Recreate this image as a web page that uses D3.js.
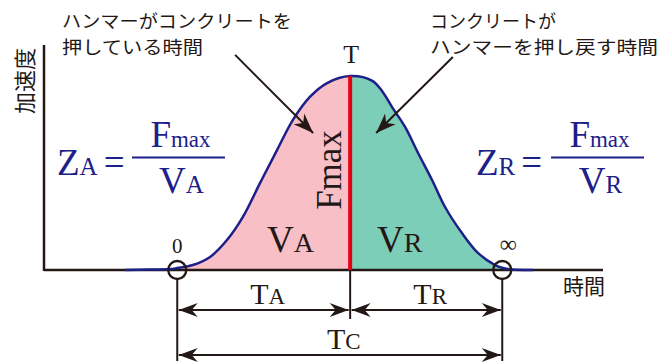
<!DOCTYPE html>
<meta charset="utf-8">
<style>
body { margin: 0; background: #fff; }
svg { display: block; }
.serif { font-family: "Liberation Serif", "Times New Roman", serif; }
.jp { font-family: "Noto Sans CJK JP", sans-serif; fill: #231815; }
</style>
<body>
<svg id="chart"></svg>
<script src="https://cdn.jsdelivr.net/npm/d3@7"></script>
<script>

// acceleration curve (time, acceleration)
var curveTime  = [-16.1, -8.4, -2.2, 0, 4.8, 10.1, 15.3, 20.2, 25.5, 30.7, 35.6, 40.8, 46.1, 53.2,
                  59.9, 63.0, 66.1, 70.1, 74.1, 78.4, 82.4, 87.6, 92.5, 97.8, 100.2, 103, 109.5];
var curveAccel = [0, 0.2, 0.4, 0.9, 2.2, 5.8, 13.3, 23.6, 38.7, 53.3, 66.7, 76.9, 83.1, 86.2,
                  84.2, 79.6, 72.4, 63.6, 52, 40, 28, 16.4, 7.6, 2.2, 0.9, 0.2, 0];

var tStart = 0, tPeak = 53.2, tEnd = 100, peakAccel = 86.2;

// dimension arrows: [from, to, label, subscript, row]
var spans = [
  [tStart, tPeak, "T", "A", 0],
  [tPeak, tEnd, "T", "R", 0],
  [tStart, tEnd, "T", "C", 1]
];

// annotation arrows: [tailTime, tailAccel, headTime, headAccel]
var pointers = [
  [17.8, 95.6, 41.8, 60.9],
  [84.8, 94.7, 61.2, 60.9]
];

var width = 666, height = 363;
var navy = "#1d2088", ink = "#231815";

var svg = d3.select("svg#chart")
    .attr("width", width)
    .attr("height", height);

var x = d3.scaleLinear().domain([-41, 131]).range([44, 603]);
var y = d3.scaleLinear().domain([0, 100]).range([270, 45]);

var pts = curveTime.map((t, i) => [t, curveAccel[i]]);

var defs = svg.append("defs");
defs.append("marker")
    .attr("id", "head")
    .attr("viewBox", "-21 -8 22 16")
    .attr("markerUnits", "userSpaceOnUse")
    .attr("markerWidth", 22).attr("markerHeight", 16)
    .attr("refX", 0).attr("refY", 0)
    .attr("orient", "auto-start-reverse")
  .append("path")
    .attr("d", "M0,0 L-20,-7.5 L-14,0 L-20,7.5 Z")
    .attr("fill", ink);
defs.append("marker")
    .attr("id", "dim")
    .attr("viewBox", "-20 -8 21 16")
    .attr("markerUnits", "userSpaceOnUse")
    .attr("markerWidth", 21).attr("markerHeight", 16)
    .attr("refX", 0).attr("refY", 0)
    .attr("orient", "auto-start-reverse")
  .append("path")
    .attr("d", "M0,0 L-19,-7 L-13,0 L-19,7 Z")
    .attr("fill", ink);

defs.append("clipPath").attr("id", "clipA")
  .append("rect")
    .attr("x", x(tStart)).attr("y", 0)
    .attr("width", x(tPeak) - x(tStart)).attr("height", height);
defs.append("clipPath").attr("id", "clipR")
  .append("rect")
    .attr("x", x(tPeak)).attr("y", 0)
    .attr("width", x(tEnd) - x(tPeak)).attr("height", height);

var area = d3.area()
    .x(d => x(d[0]))
    .y0(y(0))
    .y1(d => y(d[1]))
    .curve(d3.curveCatmullRom);
var line = d3.line()
    .x(d => x(d[0]))
    .y(d => y(d[1]))
    .curve(d3.curveCatmullRom);

// filled halves
svg.append("path").datum(pts)
    .attr("d", area).attr("fill", "#f8bfc6").attr("clip-path", "url(#clipA)");
svg.append("path").datum(pts)
    .attr("d", area).attr("fill", "#7dceb8").attr("clip-path", "url(#clipR)");

// axes
svg.append("line")
    .attr("x1", x.range()[0]).attr("x2", x.range()[0])
    .attr("y1", y.range()[1]).attr("y2", y(0) + 1)
    .attr("stroke", ink).attr("stroke-width", 2.5);
svg.append("line")
    .attr("x1", x.range()[0]).attr("x2", x.range()[1])
    .attr("y1", y(0)).attr("y2", y(0))
    .attr("stroke", ink).attr("stroke-width", 2.5);

// the curve
svg.append("path").datum(pts)
    .attr("d", line)
    .attr("fill", "none")
    .attr("stroke", navy)
    .attr("stroke-width", 2.5);

// Fmax line
svg.append("line")
    .attr("x1", x(tPeak)).attr("x2", x(tPeak))
    .attr("y1", y(0)).attr("y2", y(peakAccel))
    .attr("stroke", "#e60012").attr("stroke-width", 4);

// vertical guide lines
svg.append("line")
    .attr("x1", x(tStart)).attr("x2", x(tStart))
    .attr("y1", y(0) + 9).attr("y2", 361)
    .attr("stroke", ink).attr("stroke-width", 2);
svg.append("line")
    .attr("x1", x(tEnd)).attr("x2", x(tEnd))
    .attr("y1", y(0) + 9).attr("y2", 361)
    .attr("stroke", ink).attr("stroke-width", 2);
svg.append("line")
    .attr("x1", x(tPeak)).attr("x2", x(tPeak))
    .attr("y1", y(0)).attr("y2", 319)
    .attr("stroke", ink).attr("stroke-width", 2);

// circles at 0 and infinity
svg.selectAll(".ring")
    .data([tStart, tEnd])
  .enter().append("circle")
    .attr("class", "ring")
    .attr("cx", d => x(d)).attr("cy", y(0))
    .attr("r", 9)
    .attr("fill", "none")
    .attr("stroke", ink).attr("stroke-width", 2.3);

// dimension arrows
var rowY = [310, 355];
spans.forEach(s => {
  var yy = rowY[s[4]];
  svg.append("line")
    .attr("x1", x(s[0]) + 1.5).attr("x2", x(s[1]) - 1.5)
    .attr("y1", yy).attr("y2", yy)
    .attr("stroke", ink).attr("stroke-width", 2)
    .attr("marker-start", "url(#dim)")
    .attr("marker-end", "url(#dim)");
  var t = svg.append("text")
    .attr("class", "serif")
    .attr("x", (x(s[0]) + x(s[1])) / 2 + 4)
    .attr("y", yy - 6)
    .attr("text-anchor", "middle")
    .attr("fill", ink);
  t.append("tspan").attr("font-size", 30).text(s[2]);
  t.append("tspan").attr("font-size", 23).text(s[3]);
});

// pointer arrows
svg.selectAll(".pointer")
    .data(pointers)
  .enter().append("line")
    .attr("class", "pointer")
    .attr("x1", d => x(d[0])).attr("y1", d => y(d[1]))
    .attr("x2", d => x(d[2])).attr("y2", d => y(d[3]))
    .attr("stroke", ink).attr("stroke-width", 2)
    .attr("marker-end", "url(#head)");

// Japanese captions, two lines each
function jp(xx, lines) {
  lines.forEach((l, i) => {
    svg.append("text").attr("class", "jp")
      .attr("x", xx).attr("y", 27.5 + i * 26.3)
      .attr("font-size", 18)
      .attr("textLength", l[1]).attr("lengthAdjust", "spacingAndGlyphs")
      .text(l[0]);
  });
}
jp(62, [["ハンマーがコンクリートを", 230], ["押している時間", 141]]);
jp(430, [["コンクリートが", 126], ["ハンマーを押し戻す時間", 228]]);

svg.append("text").attr("class", "jp")
    .attr("transform", "translate(33,81) rotate(-90)")
    .attr("text-anchor", "middle")
    .attr("font-size", 22)
    .text("加速度");
svg.append("text").attr("class", "jp")
    .attr("x", 563).attr("y", 294)
    .attr("font-size", 21)
    .text("時間");

// point labels
svg.append("text").attr("class", "serif")
    .attr("x", x(tPeak) + 1).attr("y", 63)
    .attr("text-anchor", "middle").attr("font-size", 26).attr("fill", ink)
    .text("T");
svg.append("text").attr("class", "serif")
    .attr("x", x(tStart)).attr("y", 253)
    .attr("text-anchor", "middle").attr("font-size", 21).attr("fill", ink)
    .text("0");
svg.append("text").attr("class", "serif")
    .attr("x", x(tEnd) + 6).attr("y", 252)
    .attr("text-anchor", "middle").attr("font-size", 24).attr("fill", ink)
    .text("∞");

// Fmax, VA, VR inside the area
svg.append("text").attr("class", "serif")
    .attr("transform", "translate(341,170) rotate(-90)")
    .attr("text-anchor", "middle").attr("font-size", 35).attr("fill", ink)
    .text("Fmax");

function vlabel(xx, sub) {
  var t = svg.append("text").attr("class", "serif")
    .attr("x", xx).attr("y", 252).attr("fill", ink);
  t.append("tspan").attr("font-size", 37).text("V");
  t.append("tspan").attr("font-size", 28).text(sub);
}
vlabel(267, "A");
vlabel(377, "R");

// impedance formulas
function formula(x0, sub) {
  var g = svg.append("g").attr("fill", navy).attr("class", "serif");
  var z = g.append("text").attr("x", x0).attr("y", 175);
  z.append("tspan").attr("font-size", 37).text("Z");
  z.append("tspan").attr("font-size", 25).text(sub);
  z.append("tspan").attr("font-size", 37).attr("dx", 6).text("=");
  var bx = x0 + 75, bw = 93;
  g.append("line")
    .attr("x1", bx).attr("x2", bx + bw)
    .attr("y1", 157.5).attr("y2", 157.5)
    .attr("stroke", navy).attr("stroke-width", 2.2);
  var num = g.append("text").attr("x", bx + bw / 2 + 2).attr("y", 147).attr("text-anchor", "middle");
  num.append("tspan").attr("font-size", 37).text("F");
  num.append("tspan").attr("font-size", 23).text("max");
  var den = g.append("text").attr("x", bx + bw / 2 + 3).attr("y", 193).attr("text-anchor", "middle");
  den.append("tspan").attr("font-size", 37).text("V");
  den.append("tspan").attr("font-size", 25).text(sub);
}
formula(57, "A");
formula(476, "R");

</script>
